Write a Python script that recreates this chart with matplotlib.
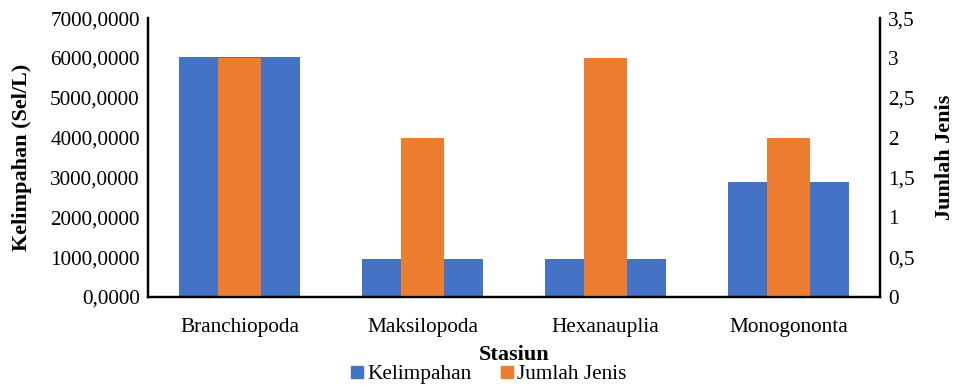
import matplotlib.pyplot as plt
from matplotlib.patches import Patch
from matplotlib.ticker import FuncFormatter

plt.rcParams['font.family'] = ['Liberation Serif', 'DejaVu Serif']

stasiun = ['Branchiopoda', 'Maksilopoda', 'Hexanauplia', 'Monogononta']
kelimpahan = [6030, 955, 955, 2880]
jumlah_jenis = [3, 2, 3, 2]

blue = '#4472C4'
orange = '#ED7D31'

fig = plt.figure(figsize=(9.55, 3.85), dpi=100)
ax = fig.add_axes([0.155, 0.2286, 0.7665, 0.7244])
ax2 = ax.twinx()

x = range(len(stasiun))
ax.bar(x, kelimpahan, width=0.665, color=blue)
ax2.bar(x, jumlah_jenis, width=0.237, color=orange)

ax.set_xlim(-0.5, 3.5)
ax.set_ylim(0, 7000)
ax2.set_ylim(0, 3.5)
ax.set_yticks(range(0, 7001, 1000))
ax2.set_yticks([i * 0.5 for i in range(8)])

ax.yaxis.set_major_formatter(FuncFormatter(lambda v, p: f'{v:.4f}'.replace('.', ',')))
ax2.yaxis.set_major_formatter(FuncFormatter(lambda v, p: f'{v:g}'.replace('.', ',')))

ax.set_xticks(list(x))
ax.set_xticklabels(stasiun)

for a in (ax, ax2):
    a.tick_params(length=0, labelsize=15.3, pad=6)
    a.spines['top'].set_visible(False)
    for s in ('left', 'right', 'bottom'):
        a.spines[s].set_linewidth(1.6)
        a.spines[s].set_color('black')
ax.tick_params(axis='x', pad=15)

ax.set_ylabel('Kelimpahan (Sel/L)', fontsize=16, fontweight='bold', labelpad=13)
ax2.set_ylabel('Jumlah Jenis', fontsize=16, fontweight='bold', labelpad=14)
ax.set_xlabel('Stasiun', fontsize=16, fontweight='bold', labelpad=6)

handles = [Patch(color=blue, label='Kelimpahan'), Patch(color=orange, label='Jumlah Jenis')]
fig.legend(handles=handles, loc='center', bbox_to_anchor=(0.512, 0.026), ncol=2,
           frameon=False, fontsize=15.3, handlelength=0.55, handleheight=0.55,
           handletextpad=0.2, columnspacing=1.4, borderaxespad=0)

fig.savefig('out.png', dpi=100)
